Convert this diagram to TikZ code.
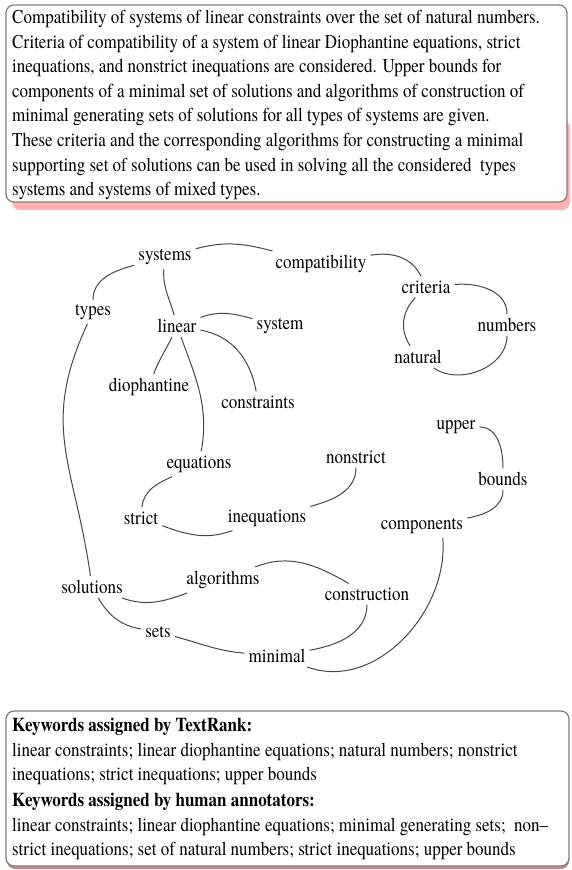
\documentclass[tikz,border=0pt]{standalone}
\usepackage{graphicx}
\usepackage{fontspec}
\setmainfont{TeX Gyre Termes}
\newcommand{\vst}[1]{\scalebox{1}[1.15]{#1}}
\begin{document}
\begin{tikzpicture}[x=1pt,y=1pt,
  kw/.style={inner sep=4pt, font=\fontsize{17}{20}\selectfont},
  link/.style={draw=black!72, line width=1pt},
  txt/.style={anchor=base west, inner sep=0pt, font=\fontsize{17}{20}\selectfont},
  boxframe/.style={draw=black!50, line width=1.3pt, fill=white, rounded corners=8pt},
  ]
\useasboundingbox (0,0) rectangle (571,-870);
\fill[white] (0,0) rectangle (571,-870);
% ---------- top box ----------
\fill[red!30, rounded corners=8pt] (12,-120) rectangle (570,-210);
\draw[boxframe] (6,-5) rectangle (567,-202);
\node[txt] (a1) at (12,-23.5) {\vst{Compatibility of systems of linear constraints over the set of natural numbers.}};
\node[txt] (a2) at (12,-48.1) {\vst{Criteria of compatibility of a system of linear Diophantine equations, strict}};
\node[txt] (a3) at (12,-72.7) {\vst{inequations, and nonstrict inequations are considered. Upper bounds for}};
\node[txt] (a4) at (12,-97.3) {\vst{components of a minimal set of solutions and algorithms of construction of}};
\node[txt] (a5) at (12,-121.9) {\vst{minimal generating sets of solutions for all types of systems are given.}};
\node[txt] (a6) at (12,-146.5) {\vst{These criteria and the corresponding algorithms for constructing a minimal}};
\node[txt] (a7) at (12,-171.1) {\vst{supporting set of solutions can be used in solving all the considered\ \ types}};
\node[txt] (a8) at (12,-195.7) {\vst{systems and systems of mixed types.}};
% ---------- graph ----------
\node[kw] (systems) at (165,-257) {\vst{systems}};
\node[kw] (compatibility) at (321,-264) {\vst{compatibility}};
\node[kw] (criteria) at (426,-287) {\vst{criteria}};
\node[kw] (numbers) at (507,-325) {\vst{numbers}};
\node[kw] (natural) at (418,-357) {\vst{natural}};
\node[kw] (types) at (93,-312) {\vst{types}};
\node[kw] (linear) at (177,-326) {\vst{linear}};
\node[kw] (system) at (280,-326) {\vst{system}};
\node[kw] (diophantine) at (149,-387) {\vst{diophantine}};
\node[kw] (constraints) at (258,-402) {\vst{constraints}};
\node[kw] (equations) at (199,-464) {\vst{equations}};
\node[kw] (strict) at (141,-518) {\vst{strict}};
\node[kw] (inequations) at (267,-518) {\vst{inequations}};
\node[kw] (nonstrict) at (356,-457) {\vst{nonstrict}};
\node[kw] (upper) at (456,-427) {\vst{upper}};
\node[kw] (bounds) at (503,-479) {\vst{bounds}};
\node[kw] (components) at (422,-526) {\vst{components}};
\node[kw] (algorithms) at (223,-580) {\vst{algorithms}};
\node[kw] (solutions) at (92,-587) {\vst{solutions}};
\node[kw] (construction) at (367,-594) {\vst{construction}};
\node[kw] (sets) at (158,-632) {\vst{sets}};
\node[kw] (minimal) at (277,-656) {\vst{minimal}};
% edges
\draw[link] (types) to[out=90,in=195] (systems);
\draw[link] (systems) to[out=-95,in=105] (linear);
\draw[link] (systems) to[out=15,in=165] (compatibility);
\draw[link] (compatibility) to[out=10,in=115] (criteria);
\draw[link] (criteria) to[out=5,in=90] (numbers);
\draw[link] (criteria) to[out=225,in=125] (natural);
\draw[link] (natural) to[out=-35,in=-90] (numbers);
\draw[link] (linear) to[out=20,in=165] (system);
\draw[link] (linear) to[out=-115,in=70] (diophantine);
\draw[link] (linear) to[out=-10,in=100] (constraints);
\draw[link] (linear) to[out=-70,in=80] (equations);
\draw[link] (types) to[out=-115,in=98,looseness=1.15] (solutions);
\draw[link] (equations) to[out=205,in=85] (strict);
\draw[link] (strict) to[out=-20,in=200] (inequations);
\draw[link] (inequations) to[out=15,in=-90] (nonstrict);
\draw[link] (upper) to[out=0,in=90] (bounds);
\draw[link] (bounds) to[out=-90,in=10] (components);
\draw[link] (components.-30) to[out=-85,in=-20] (minimal);
\draw[link] (construction) to[out=-90,in=10] (minimal);
\draw[link] (algorithms) to[out=22,in=150] (construction);
\draw[link] (solutions) to[out=-20,in=200] (algorithms);
\draw[link] (solutions) to[out=-60,in=170] (sets);
\draw[link] (sets) to[out=-15,in=175] (minimal);
% ---------- bottom box ----------
\fill[red!45!black!45, rounded corners=8pt] (7,-714) rectangle (569,-869);
\draw[boxframe] (6,-711) rectangle (569,-866);
\node[txt, font=\fontsize{17}{20}\selectfont\bfseries] (h1) at (12,-731) {\vst{Keywords assigned by TextRank:}};
\node[txt] (b1) at (12,-756) {\vst{linear constraints; linear diophantine equations; natural numbers; nonstrict}};
\node[txt] (b2) at (12,-780.5) {\vst{inequations; strict inequations; upper bounds}};
\node[txt, font=\fontsize{17}{20}\selectfont\bfseries] (h2) at (12,-806) {\vst{Keywords assigned by human annotators:}};
\node[txt] (b3) at (12,-831) {\vst{linear constraints; linear diophantine equations; minimal generating sets;\ \ non--}};
\node[txt] (b4) at (12,-855.5) {\vst{strict inequations; set of natural numbers; strict inequations; upper bounds}};
\end{tikzpicture}
\end{document}
